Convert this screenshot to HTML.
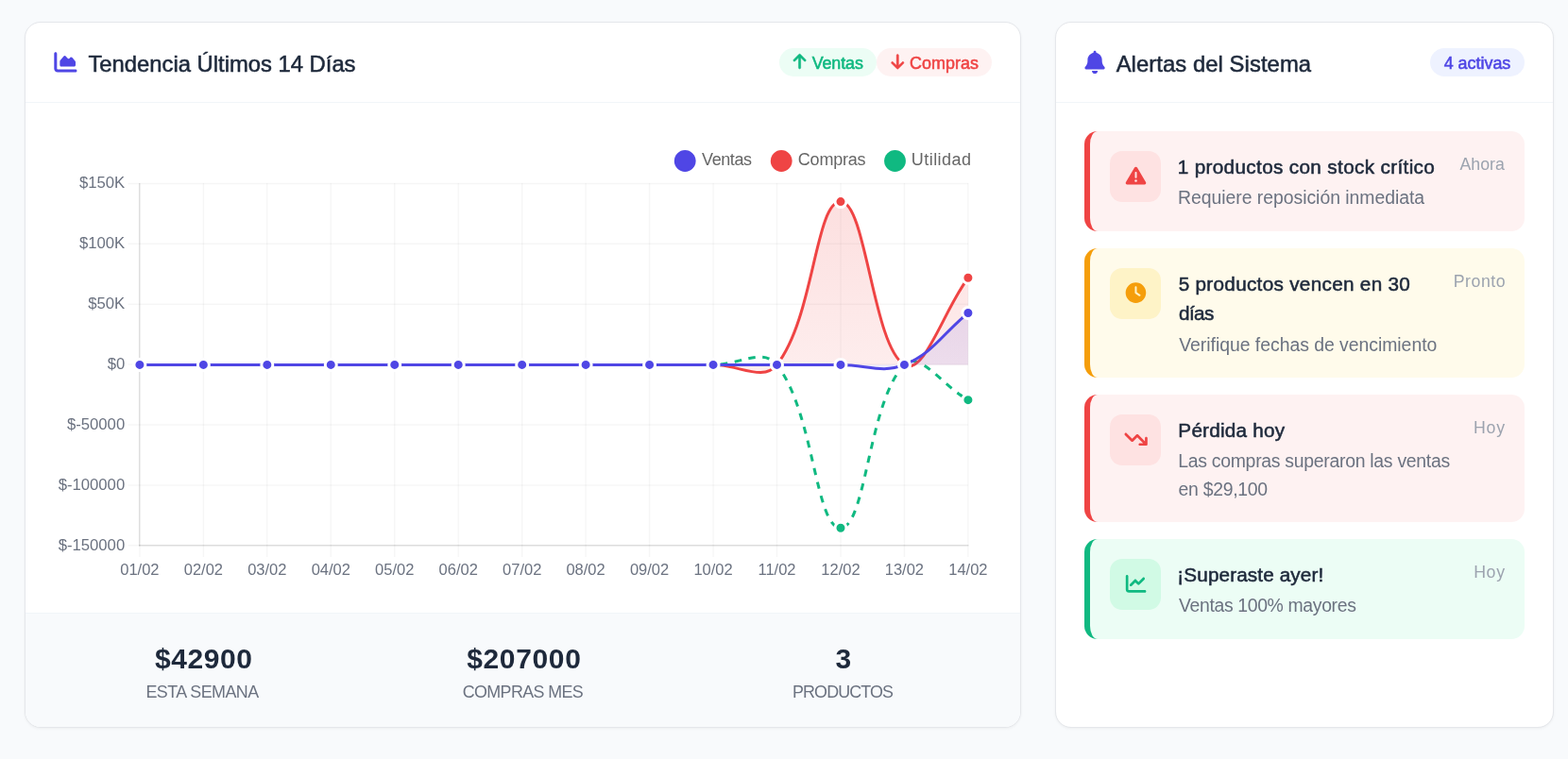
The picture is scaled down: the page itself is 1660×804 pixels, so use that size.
<!DOCTYPE html><html lang="es"><head><meta charset="utf-8"><title>Dashboard</title><style>
*{box-sizing:border-box;margin:0;padding:0}
html,body{width:1660px;height:804px;overflow:hidden}
body{background:#f8fafc;font-family:"Liberation Sans",sans-serif;color:#1e293b;position:relative}
.x{position:relative;display:inline-block;white-space:nowrap}
.sb{-webkit-text-stroke:0.55px currentColor}
.card{position:absolute;top:23px;height:748px;background:#fff;border:1px solid #e5e7eb;border-radius:17px;box-shadow:0 1px 3px rgba(0,0,0,.05);overflow:hidden}
#c1{left:26px;width:1055px}
#c2{left:1117px;width:528px}
.hd{height:85px;border-bottom:1px solid #f1f5f9;position:relative}
.ttl{position:absolute;left:67px;top:0;height:84px;display:flex;align-items:center;color:#1e293b;white-space:nowrap;line-height:30px}
.ttl .ic{margin-right:12.2px;position:relative;top:0}
.badge{position:absolute;top:27px;height:30px;border-radius:15px;display:flex;align-items:center;white-space:nowrap;line-height:22px}
.badge .ic{position:absolute}
.b-g{background:#ecfdf5;color:#10b981}
.b-r{background:#fef2f2;color:#ef4444}
.b-i{background:#eef2ff;color:#4f46e5}
.ft{position:absolute;left:0;right:0;top:625px;height:122px;background:#f8fafc;border-top:1px solid #f1f5f9}
.st{position:absolute;top:0;left:0;width:100%}
.st .v{font-weight:700;color:#1e293b;line-height:36px;height:36px;margin-top:30px;white-space:nowrap}
.st .l{color:#6b7280;line-height:24px;height:24px;margin-top:5px;white-space:nowrap}
.alerts{padding:115px 0 0 30px;position:absolute;left:0;top:0;width:100%}
.al{position:absolute;left:30px;width:466px;border-left:6px solid;border-radius:14px}
.al.r{background:#fef2f2;border-color:#ef4444}
.al.y{background:#fffbeb;border-color:#f59e0b}
.al.g{background:#ecfdf5;border-color:#10b981}
.ib{position:absolute;left:21px;top:21px;width:54px;height:54px;border-radius:13px}
.ib .ic{position:absolute}
.al.r .ib{background:#fee2e2}
.al.y .ib{background:#fef3c7}
.al.g .ib{background:#d1fae5}
.ac{position:absolute;left:94px;top:20px}
.at{color:#1e293b;line-height:31px;height:31px}
.as{color:#6b7280;line-height:29px;height:29px}
.at+.as{margin-top:2px}
.tm{position:absolute;top:22px;color:#9ca3af;line-height:24px;white-space:nowrap}
svg.ch{position:absolute;left:0;top:0}
svg.ch text{font-family:"Liberation Sans",sans-serif}
.lg{position:absolute;top:134px;line-height:24px;color:#666;white-space:nowrap}
</style></head><body>
<div class="card" id="c1"><div class="hd"><div class="ttl"><span id="t1" class="x sb" style="font-size:23.80px;letter-spacing:0.000px;left:-0.54px;top:2.00px;">Tendencia Últimos 14 Días</span></div>
<span class="badge b-g" style="left:798px;width:103px;padding-left:34.5px"><span id="bv" class="x sb" style="font-size:17.90px;letter-spacing:-0.090px;left:0.13px;top:1.00px;">Ventas</span></span>
<span class="badge b-r" style="left:901.2px;width:122px;padding-left:35.3px"><span id="bc" class="x sb" style="font-size:17.90px;letter-spacing:0.065px;left:-0.54px;top:1.00px;">Compras</span></span></div>
<div class="ft">
<div class="st"><div class="v" style="padding-left:137.8px"><span id="v1" class="x " style="font-size:30.00px;letter-spacing:0.591px;left:-0.85px;top:0.00px;">$42900</span></div><div class="l" style="padding-left:128.8px"><span id="l1" class="x " style="font-size:17.90px;letter-spacing:-0.513px;left:-1.40px;top:0.00px;">ESTA SEMANA</span></div></div>
<div class="st"><div class="v" style="padding-left:467.9px"><span id="v2" class="x " style="font-size:30.00px;letter-spacing:0.648px;left:-0.69px;top:0.00px;">$207000</span></div><div class="l" style="padding-left:463.6px"><span id="l2" class="x " style="font-size:17.90px;letter-spacing:-0.608px;left:-0.92px;top:0.00px;">COMPRAS MES</span></div></div>
<div class="st"><div class="v" style="padding-left:858.4px"><span id="v3" class="x " style="font-size:30.00px;letter-spacing:0.000px;left:-0.98px;top:0.00px;">3</span></div><div class="l" style="padding-left:813.5px"><span id="l3" class="x " style="font-size:17.90px;letter-spacing:-0.899px;left:-1.45px;top:0.00px;">PRODUCTOS</span></div></div>
</div>
<div class="lg" style="left:717.0px"><span id="g1" class="x " style="font-size:18.00px;letter-spacing:-0.409px;left:-0.95px;top:-1.00px;">Ventas</span></div>
<div class="lg" style="left:818.7px"><span id="g2" class="x " style="font-size:18.00px;letter-spacing:-0.221px;left:-0.86px;top:-1.00px;">Compras</span></div>
<div class="lg" style="left:939.3px"><span id="g3" class="x " style="font-size:18.00px;letter-spacing:0.448px;left:-1.49px;top:-1.00px;">Utilidad</span></div>
</div>
<div class="card" id="c2"><div class="hd"><div class="ttl"><span id="t2" class="x sb" style="font-size:23.80px;letter-spacing:0.075px;left:-3.34px;top:2.00px;">Alertas del Sistema</span></div><span class="badge b-i" style="left:396px;width:100px;padding-left:15px"><span id="ba" class="x sb" style="font-size:17.90px;letter-spacing:-0.000px;left:-0.32px;top:1.00px;">4 activas</span></span></div>
<div class="al r" style="top:115.0px;height:106.0px"><div class="ib"></div><div class="ac"><div class="at"><span id="a1t" class="x sb" style="font-size:20.70px;letter-spacing:0.357px;left:-1.33px;top:2.00px;">1 productos con stock crítico</span></div><div class="as"><span id="a1s" class="x " style="font-size:19.40px;letter-spacing:-0.029px;left:-1.01px;top:3.00px;">Requiere reposición inmediata</span></div></div><div class="tm" style="left:392.0px"><span id="a1m" class="x " style="font-size:17.70px;letter-spacing:0.036px;left:-0.50px;top:1.00px;">Ahora</span></div></div>
<div class="al y" style="top:239.0px;height:137.0px"><div class="ib"></div><div class="ac"><div class="at"><span id="a2t" class="x sb" style="font-size:20.70px;letter-spacing:0.309px;left:-0.36px;top:2.00px;">5 productos vencen en 30</span></div><div class="at"><span id="a2t2" class="x sb" style="font-size:20.70px;letter-spacing:-0.576px;left:0.03px;top:2.00px;">días</span></div><div class="as"><span id="a2s" class="x " style="font-size:19.40px;letter-spacing:-0.025px;left:0.25px;top:4.00px;">Verifique fechas de vencimiento</span></div></div><div class="tm" style="left:386.5px"><span id="a2m" class="x " style="font-size:17.70px;letter-spacing:0.562px;left:-1.84px;top:1.00px;">Pronto</span></div></div>
<div class="al r" style="top:394.0px;height:135.0px"><div class="ib"></div><div class="ac"><div class="at"><span id="a3t" class="x sb" style="font-size:20.70px;letter-spacing:0.238px;left:-0.67px;top:2.00px;">Pérdida hoy</span></div><div class="as"><span id="a3s" class="x " style="font-size:19.40px;letter-spacing:-0.274px;left:-0.75px;top:3.00px;">Las compras superaron las ventas</span></div><div class="as"><span id="a3s2" class="x " style="font-size:19.40px;letter-spacing:-0.271px;left:-0.50px;top:4.00px;">en $29,100</span></div></div><div class="tm" style="left:408.0px"><span id="a3m" class="x " style="font-size:17.70px;letter-spacing:0.738px;left:-1.94px;top:1.00px;">Hoy</span></div></div>
<div class="al g" style="top:547.0px;height:106.0px"><div class="ib"></div><div class="ac"><div class="at"><span id="a4t" class="x sb" style="font-size:20.70px;letter-spacing:0.127px;left:-1.69px;top:2.00px;">¡Superaste ayer!</span></div><div class="as"><span id="a4s" class="x " style="font-size:19.40px;letter-spacing:-0.347px;left:0.05px;top:3.00px;">Ventas 100% mayores</span></div></div><div class="tm" style="left:408.0px"><span id="a4m" class="x " style="font-size:17.70px;letter-spacing:0.712px;left:-1.89px;top:1.00px;">Hoy</span></div></div>
</div>
<svg class="ch" width="1660" height="804" viewBox="0 0 1660 804">
<defs><linearGradient id="gr" gradientUnits="userSpaceOnUse" x1="0" y1="139.5" x2="0" y2="620"><stop offset="0" stop-color="#ef4444" stop-opacity="0.2"/><stop offset="1" stop-color="#ef4444" stop-opacity="0"/></linearGradient><linearGradient id="gb" gradientUnits="userSpaceOnUse" x1="0" y1="139.5" x2="0" y2="620"><stop offset="0" stop-color="#4f46e5" stop-opacity="0.2"/><stop offset="1" stop-color="#4f46e5" stop-opacity="0"/></linearGradient><clipPath id="cp"><rect x="139.9" y="186.4" width="893.0" height="400.0"/></clipPath></defs>
<g stroke="#000" stroke-opacity="0.035" stroke-width="1.5"><line x1="147.9" y1="194.0" x2="147.9" y2="590.0"/><line x1="215.4" y1="194.0" x2="215.4" y2="590.0"/><line x1="282.8" y1="194.0" x2="282.8" y2="590.0"/><line x1="350.3" y1="194.0" x2="350.3" y2="590.0"/><line x1="417.7" y1="194.0" x2="417.7" y2="590.0"/><line x1="485.2" y1="194.0" x2="485.2" y2="590.0"/><line x1="552.7" y1="194.0" x2="552.7" y2="590.0"/><line x1="620.1" y1="194.0" x2="620.1" y2="590.0"/><line x1="687.6" y1="194.0" x2="687.6" y2="590.0"/><line x1="755.1" y1="194.0" x2="755.1" y2="590.0"/><line x1="822.5" y1="194.0" x2="822.5" y2="590.0"/><line x1="890.0" y1="194.0" x2="890.0" y2="590.0"/><line x1="957.4" y1="194.0" x2="957.4" y2="590.0"/><line x1="1024.9" y1="194.0" x2="1024.9" y2="590.0"/><line x1="135.5" y1="194.4" x2="1025.0" y2="194.4"/><line x1="135.5" y1="258.3" x2="1025.0" y2="258.3"/><line x1="135.5" y1="322.2" x2="1025.0" y2="322.2"/><line x1="135.5" y1="386.1" x2="1025.0" y2="386.1"/><line x1="135.5" y1="450.0" x2="1025.0" y2="450.0"/><line x1="135.5" y1="513.9" x2="1025.0" y2="513.9"/><line x1="135.5" y1="577.8" x2="1025.0" y2="577.8"/></g>
<g stroke="#000" stroke-opacity="0.1" stroke-width="1.5"><line x1="147.7" y1="194" x2="147.7" y2="578.4"/><line x1="147" y1="577.7" x2="1025.5" y2="577.7"/></g>
<text x="132.2" y="199.1" text-anchor="end" font-size="16.7" fill="#6b7280">$150K</text>
<text x="132.2" y="263.1" text-anchor="end" font-size="16.7" fill="#6b7280">$100K</text>
<text x="132.2" y="327.1" text-anchor="end" font-size="16.7" fill="#6b7280">$50K</text>
<text x="132.2" y="391.1" text-anchor="end" font-size="16.7" fill="#6b7280">$0</text>
<text x="132.2" y="455.1" text-anchor="end" font-size="16.7" fill="#6b7280">$-50000</text>
<text x="132.2" y="519.1" text-anchor="end" font-size="16.7" fill="#6b7280">$-100000</text>
<text x="132.2" y="583.1" text-anchor="end" font-size="16.7" fill="#6b7280">$-150000</text>
<text x="147.9" y="609" text-anchor="middle" font-size="16.5" fill="#6b7280">01/02</text>
<text x="215.4" y="609" text-anchor="middle" font-size="16.5" fill="#6b7280">02/02</text>
<text x="282.8" y="609" text-anchor="middle" font-size="16.5" fill="#6b7280">03/02</text>
<text x="350.3" y="609" text-anchor="middle" font-size="16.5" fill="#6b7280">04/02</text>
<text x="417.7" y="609" text-anchor="middle" font-size="16.5" fill="#6b7280">05/02</text>
<text x="485.2" y="609" text-anchor="middle" font-size="16.5" fill="#6b7280">06/02</text>
<text x="552.7" y="609" text-anchor="middle" font-size="16.5" fill="#6b7280">07/02</text>
<text x="620.1" y="609" text-anchor="middle" font-size="16.5" fill="#6b7280">08/02</text>
<text x="687.6" y="609" text-anchor="middle" font-size="16.5" fill="#6b7280">09/02</text>
<text x="755.1" y="609" text-anchor="middle" font-size="16.5" fill="#6b7280">10/02</text>
<text x="822.5" y="609" text-anchor="middle" font-size="16.5" fill="#6b7280">11/02</text>
<text x="890.0" y="609" text-anchor="middle" font-size="16.5" fill="#6b7280">12/02</text>
<text x="957.4" y="609" text-anchor="middle" font-size="16.5" fill="#6b7280">13/02</text>
<text x="1024.9" y="609" text-anchor="middle" font-size="16.5" fill="#6b7280">14/02</text>
<g clip-path="url(#cp)">
<path d="M147.90 386.40 C174.88 386.40 188.38 386.40 215.36 386.40 C242.35 386.40 255.84 386.40 282.82 386.40 C309.81 386.40 323.30 386.40 350.28 386.40 C377.27 386.40 390.76 386.40 417.75 386.40 C444.73 386.40 458.22 386.40 485.21 386.40 C512.19 386.40 525.68 386.40 552.67 386.40 C579.65 386.40 593.15 386.40 620.13 386.40 C647.12 386.40 660.61 386.40 687.59 386.40 C714.58 386.40 728.07 386.40 755.05 386.40 C782.04 386.40 808.12 367.97 822.51 386.40 C862.09 437.09 862.99 559.20 889.98 559.20 C916.96 559.20 919.31 424.71 957.44 386.40 C973.28 370.49 997.91 408.75 1024.90 423.65" fill="none" stroke="#10b981" stroke-width="3" stroke-dasharray="7.5 7.5"/>
<circle cx="147.90" cy="386.40" r="6" fill="#10b981" stroke="#fff" stroke-width="3"/>
<circle cx="215.36" cy="386.40" r="6" fill="#10b981" stroke="#fff" stroke-width="3"/>
<circle cx="282.82" cy="386.40" r="6" fill="#10b981" stroke="#fff" stroke-width="3"/>
<circle cx="350.28" cy="386.40" r="6" fill="#10b981" stroke="#fff" stroke-width="3"/>
<circle cx="417.75" cy="386.40" r="6" fill="#10b981" stroke="#fff" stroke-width="3"/>
<circle cx="485.21" cy="386.40" r="6" fill="#10b981" stroke="#fff" stroke-width="3"/>
<circle cx="552.67" cy="386.40" r="6" fill="#10b981" stroke="#fff" stroke-width="3"/>
<circle cx="620.13" cy="386.40" r="6" fill="#10b981" stroke="#fff" stroke-width="3"/>
<circle cx="687.59" cy="386.40" r="6" fill="#10b981" stroke="#fff" stroke-width="3"/>
<circle cx="755.05" cy="386.40" r="6" fill="#10b981" stroke="#fff" stroke-width="3"/>
<circle cx="822.51" cy="386.40" r="6" fill="#10b981" stroke="#fff" stroke-width="3"/>
<circle cx="889.98" cy="559.20" r="6" fill="#10b981" stroke="#fff" stroke-width="3"/>
<circle cx="957.44" cy="386.40" r="6" fill="#10b981" stroke="#fff" stroke-width="3"/>
<circle cx="1024.90" cy="423.65" r="6" fill="#10b981" stroke="#fff" stroke-width="3"/>
<path d="M147.90 386.40 C174.88 386.40 188.38 386.40 215.36 386.40 C242.35 386.40 255.84 386.40 282.82 386.40 C309.81 386.40 323.30 386.40 350.28 386.40 C377.27 386.40 390.76 386.40 417.75 386.40 C444.73 386.40 458.22 386.40 485.21 386.40 C512.19 386.40 525.68 386.40 552.67 386.40 C579.65 386.40 593.15 386.40 620.13 386.40 C647.12 386.40 660.61 386.40 687.59 386.40 C714.58 386.40 728.07 386.40 755.05 386.40 C782.04 386.40 808.12 404.83 822.51 386.40 C862.09 335.71 862.99 213.60 889.98 213.60 C916.96 213.60 924.03 366.44 957.44 386.40 C978.00 398.69 997.91 331.10 1024.90 294.24 L1024.90 386.40 L147.90 386.40 Z" fill="url(#gr)" stroke="none"/>
<path d="M147.90 386.40 C174.88 386.40 188.38 386.40 215.36 386.40 C242.35 386.40 255.84 386.40 282.82 386.40 C309.81 386.40 323.30 386.40 350.28 386.40 C377.27 386.40 390.76 386.40 417.75 386.40 C444.73 386.40 458.22 386.40 485.21 386.40 C512.19 386.40 525.68 386.40 552.67 386.40 C579.65 386.40 593.15 386.40 620.13 386.40 C647.12 386.40 660.61 386.40 687.59 386.40 C714.58 386.40 728.07 386.40 755.05 386.40 C782.04 386.40 808.12 404.83 822.51 386.40 C862.09 335.71 862.99 213.60 889.98 213.60 C916.96 213.60 924.03 366.44 957.44 386.40 C978.00 398.69 997.91 331.10 1024.90 294.24" fill="none" stroke="#ef4444" stroke-width="3"/>
<circle cx="147.90" cy="386.40" r="6" fill="#ef4444" stroke="#fff" stroke-width="3"/>
<circle cx="215.36" cy="386.40" r="6" fill="#ef4444" stroke="#fff" stroke-width="3"/>
<circle cx="282.82" cy="386.40" r="6" fill="#ef4444" stroke="#fff" stroke-width="3"/>
<circle cx="350.28" cy="386.40" r="6" fill="#ef4444" stroke="#fff" stroke-width="3"/>
<circle cx="417.75" cy="386.40" r="6" fill="#ef4444" stroke="#fff" stroke-width="3"/>
<circle cx="485.21" cy="386.40" r="6" fill="#ef4444" stroke="#fff" stroke-width="3"/>
<circle cx="552.67" cy="386.40" r="6" fill="#ef4444" stroke="#fff" stroke-width="3"/>
<circle cx="620.13" cy="386.40" r="6" fill="#ef4444" stroke="#fff" stroke-width="3"/>
<circle cx="687.59" cy="386.40" r="6" fill="#ef4444" stroke="#fff" stroke-width="3"/>
<circle cx="755.05" cy="386.40" r="6" fill="#ef4444" stroke="#fff" stroke-width="3"/>
<circle cx="822.51" cy="386.40" r="6" fill="#ef4444" stroke="#fff" stroke-width="3"/>
<circle cx="889.98" cy="213.60" r="6" fill="#ef4444" stroke="#fff" stroke-width="3"/>
<circle cx="957.44" cy="386.40" r="6" fill="#ef4444" stroke="#fff" stroke-width="3"/>
<circle cx="1024.90" cy="294.24" r="6" fill="#ef4444" stroke="#fff" stroke-width="3"/>
<path d="M147.90 386.40 C174.88 386.40 188.38 386.40 215.36 386.40 C242.35 386.40 255.84 386.40 282.82 386.40 C309.81 386.40 323.30 386.40 350.28 386.40 C377.27 386.40 390.76 386.40 417.75 386.40 C444.73 386.40 458.22 386.40 485.21 386.40 C512.19 386.40 525.68 386.40 552.67 386.40 C579.65 386.40 593.15 386.40 620.13 386.40 C647.12 386.40 660.61 386.40 687.59 386.40 C714.58 386.40 728.07 386.40 755.05 386.40 C782.04 386.40 795.53 386.40 822.51 386.40 C849.50 386.40 862.99 386.40 889.98 386.40 C916.96 386.40 933.86 395.99 957.44 386.40 C987.83 374.03 997.91 353.45 1024.90 331.49 L1024.90 386.40 L147.90 386.40 Z" fill="url(#gb)" stroke="none"/>
<path d="M147.90 386.40 C174.88 386.40 188.38 386.40 215.36 386.40 C242.35 386.40 255.84 386.40 282.82 386.40 C309.81 386.40 323.30 386.40 350.28 386.40 C377.27 386.40 390.76 386.40 417.75 386.40 C444.73 386.40 458.22 386.40 485.21 386.40 C512.19 386.40 525.68 386.40 552.67 386.40 C579.65 386.40 593.15 386.40 620.13 386.40 C647.12 386.40 660.61 386.40 687.59 386.40 C714.58 386.40 728.07 386.40 755.05 386.40 C782.04 386.40 795.53 386.40 822.51 386.40 C849.50 386.40 862.99 386.40 889.98 386.40 C916.96 386.40 933.86 395.99 957.44 386.40 C987.83 374.03 997.91 353.45 1024.90 331.49" fill="none" stroke="#4f46e5" stroke-width="3"/>
<circle cx="147.90" cy="386.40" r="6" fill="#4f46e5" stroke="#fff" stroke-width="3"/>
<circle cx="215.36" cy="386.40" r="6" fill="#4f46e5" stroke="#fff" stroke-width="3"/>
<circle cx="282.82" cy="386.40" r="6" fill="#4f46e5" stroke="#fff" stroke-width="3"/>
<circle cx="350.28" cy="386.40" r="6" fill="#4f46e5" stroke="#fff" stroke-width="3"/>
<circle cx="417.75" cy="386.40" r="6" fill="#4f46e5" stroke="#fff" stroke-width="3"/>
<circle cx="485.21" cy="386.40" r="6" fill="#4f46e5" stroke="#fff" stroke-width="3"/>
<circle cx="552.67" cy="386.40" r="6" fill="#4f46e5" stroke="#fff" stroke-width="3"/>
<circle cx="620.13" cy="386.40" r="6" fill="#4f46e5" stroke="#fff" stroke-width="3"/>
<circle cx="687.59" cy="386.40" r="6" fill="#4f46e5" stroke="#fff" stroke-width="3"/>
<circle cx="755.05" cy="386.40" r="6" fill="#4f46e5" stroke="#fff" stroke-width="3"/>
<circle cx="822.51" cy="386.40" r="6" fill="#4f46e5" stroke="#fff" stroke-width="3"/>
<circle cx="889.98" cy="386.40" r="6" fill="#4f46e5" stroke="#fff" stroke-width="3"/>
<circle cx="957.44" cy="386.40" r="6" fill="#4f46e5" stroke="#fff" stroke-width="3"/>
<circle cx="1024.90" cy="331.49" r="6" fill="#4f46e5" stroke="#fff" stroke-width="3"/>
</g>
<circle cx="725.2" cy="170.5" r="11.4" fill="#4f46e5"/>
<circle cx="827.2" cy="170.5" r="11.4" fill="#ef4444"/>
<circle cx="947.5" cy="170.5" r="11.4" fill="#10b981"/>
<path transform="translate(57.30 53.75) scale(0.04727)" fill="#4f46e5" fill-rule="evenodd" d="M64 64c0-17.700-14.300-32-32-32S0 46.300 0 64V400c0 44.200 35.800 80 80 80H480c17.700 0 32-14.300 32-32s-14.300-32-32-32H80c-8.800 0-16-7.200-16-16V64zm96 288H448c17.700 0 32-14.300 32-32V251.800c0-7.600-2.700-15-7.700-20.800l-65.800-76.800c-12.100-14.200-33.700-15-46.900-1.800l-21 21c-10 10-26.400 9.200-35.400-1.600l-39.200-47c-12.600-15.100-35.700-15.400-48.700-.6L135.900 215c-5.100 5.800-7.900 13.300-7.900 21.100v84c0 17.700 14.300 32 32 32z"/>
<path transform="translate(1148.38 53.65) scale(0.04766)" fill="#4f46e5" fill-rule="evenodd" d="M224 0c-17.700 0-32 14.300-32 32V51.200C119 66 64 130.600 64 208v18.800c0 47-17.300 92.400-48.500 127.600l-7.400 8.300c-8.400 9.400-10.400 22.900-5.300 34.400S19.400 416 32 416H416c12.600 0 24-7.400 29.200-18.900s3.100-25-5.300-34.400l-7.400-8.300C401.300 319.200 384 273.900 384 226.800V208c0-77.400-55-142-128-156.800V32c0-17.700-14.300-32-32-32zm45.300 493.300c12-12 18.700-28.300 18.700-45.300H224 160c0 17 6.700 33.300 18.700 45.300s28.300 18.700 45.300 18.700s33.300-6.700 45.300-18.700z"/>
<path transform="translate(839.84 56.11) scale(0.03496)" fill="#10b981" stroke="#10b981" stroke-width="15" stroke-linejoin="round" fill-rule="evenodd" d="M214.6 41.4c-12.5-12.5-32.8-12.5-45.3 0l-160 160c-12.5 12.5-12.5 32.800 0 45.300s32.800 12.500 45.300 0L160 141.200V448c0 17.700 14.300 32 32 32s32-14.300 32-32V141.200L329.400 246.600c12.500 12.500 32.800 12.500 45.300 0s12.500-32.800 0-45.300l-160-160z"/>
<path transform="translate(943.54 56.40) scale(0.03496)" fill="#ef4444" stroke="#ef4444" stroke-width="13" stroke-linejoin="round" fill-rule="evenodd" d="M169.4 470.6c12.5 12.5 32.8 12.5 45.3 0l160-160c12.5-12.5 12.5-32.800 0-45.300s-32.800-12.500-45.300 0L224 370.800V64c0-17.700-14.300-32-32-32s-32 14.300-32 32v306.700L54.600 265.400c-12.500-12.500-32.800-12.500-45.300 0s-12.500 32.800 0 45.300l160 160z"/>
<path transform="translate(1191.70 175.30) scale(0.04219)" fill="#ef4444" fill-rule="evenodd" d="M256 32c14.200 0 27.300 7.500 34.500 19.800l216 368c7.300 12.400 7.300 27.700 .2 40.100S486.300 480 472 480H40c-14.300 0-27.600-7.700-34.700-20.100s-7-27.800 .2-40.100l216-368C228.700 39.500 241.800 32 256 32zm0 128c-13.300 0-24 10.700-24 24V296c0 13.300 10.700 24 24 24s24-10.700 24-24V184c0-13.300-10.700-24-24-24zm32 224a32 32 0 1 0 -64 0 32 32 0 1 0 64 0z"/>
<path transform="translate(1191.65 299.30) scale(0.04219)" fill="#f59e0b" fill-rule="evenodd" d="M256 0a256 256 0 1 1 0 512A256 256 0 1 1 256 0zM232 120V256c0 8 4 15.500 10.700 20l96 64c11 7.400 25.900 4.400 33.300-6.700s4.400-25.900-6.700-33.300L280 243.200V120c0-13.300-10.700-24-24-24s-24 10.700-24 24z"/>
<path transform="translate(1190.50 454.55) scale(0.04219)" fill="#ef4444" fill-rule="evenodd" d="M384 352c-17.700 0-32 14.300-32 32s14.300 32 32 32H544c17.700 0 32-14.300 32-32V224c0-17.700-14.300-32-32-32s-32 14.300-32 32v82.700L342.600 137.400c-12.500-12.500-32.800-12.500-45.300 0L192 242.700 54.600 105.400c-12.500-12.500-32.800-12.500-45.300 0s-12.500 32.800 0 45.300l160 160c12.500 12.500 32.800 12.500 45.300 0L320 205.300 466.700 352H384z"/>
<path transform="translate(1191.80 607.55) scale(0.04219)" fill="#10b981" fill-rule="evenodd" d="M64 64c0-17.700-14.300-32-32-32S0 46.300 0 64V400c0 44.200 35.800 80 80 80H480c17.700 0 32-14.300 32-32s-14.300-32-32-32H80c-8.800 0-16-7.200-16-16V64zm406.600 86.600c12.500-12.500 12.500-32.800 0-45.300s-32.800-12.500-45.300 0L320 210.700l-57.400-57.400c-12.500-12.500-32.800-12.500-45.300 0l-112 112c-12.500 12.500-12.500 32.800 0 45.300s32.800 12.500 45.300 0L240 221.300l57.400 57.400c12.500 12.500 32.800 12.500 45.300 0l128-128z"/>
</svg>
</body></html>
